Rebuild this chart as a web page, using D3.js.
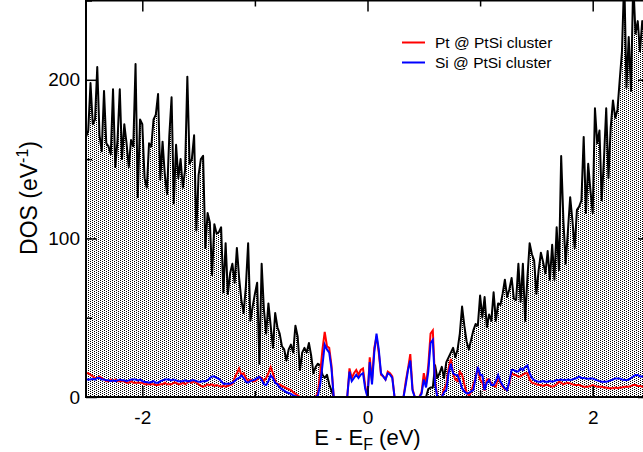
<!DOCTYPE html>
<html><head><meta charset="utf-8">
<script src="https://cdn.jsdelivr.net/npm/d3@7"></script>
<style>body{margin:0;background:#fff}svg{display:block}text{font-family:"Liberation Sans",Arial,sans-serif;fill:#000}</style>
</head><body><svg id="c" width="643" height="452"></svg>
<script>
// Energy grid: start and step (eV)
const eStart = -2.5, eStep = 0.02;
// Total DOS (black, filled)
const totalDOS = [
164,168,198,172,175,208,165,155,193,160,
158,153,194,145,162,194,150,172,160,145,
162,158,210,126,175,172,138,132,160,158,
175,178,191,137,161,140,128,165,189,122,
159,138,150,132,143,202,147,150,165,105,
140,150,152,94,116,110,77,109,103,104,
107,66,97,65,78,84,72,94,75,61,
53,70,97,48,57,65,72,21,84,55,
40,59,45,31,53,44,40,32,30,23,
30,33,28,45,38,17,28,31,28,34,
26,15,19,21,20,14,12,14,8,4,
0,0,0,0,0,0,0,0,0,0,
0,0,0,0,0,0,0,0,0,0,
0,0,0,0,0,0,0,0,0,0,
0,0,0,0,0,0,0,0,0,0,
0,0,5,6,6,20,12,15,19,12,
22,25,28,31,25,30,40,57,45,35,
30,36,42,46,45,64,50,63,44,52,
48,66,48,59,58,65,74,63,68,75,
62,61,84,60,84,48,75,97,90,86,
65,80,91,85,78,92,74,96,74,107,
80,152,111,84,105,126,111,94,118,120,
124,164,116,147,130,116,182,160,168,124,
150,182,138,170,187,176,181,200,218,265,
195,227,193,262,229,237,218,237,230,240,
235];
// Pt @ PtSi cluster (red)
const ptDOS = [
15,15,14,13,12,12,13,12,11,10,
10,11,10,11,10,10,10,10,9,9,
10,9,9,9,9,9,8,8,8,8,
8,7.5,7.5,8,8,9,8,8,8,9,
9,8,8,9,8,9,10,9,10,9,
8,7,6.5,7,8,7.5,8,7,7.5,7,
6.5,7,6.5,7,7.5,8,12,15,18,14,
15,12,10,11,10,10,11,12.8,12,10,
12,15,19,15,10,8,8,7,6.5,5.5,
5,4.4,3,2,1,0,0,0,0,0,
0,0,0,3,15,30,41,32,31,20,
0,0,0,0,0,0,0,18,12,15,
17,14,17,18,7,0,25,10,31,38,
28,14,13,11,16,15,13,0,0,0,
0,0,10,18,27,5,0,0,0,3,
15,8,20,40,42,10,0,0,0,5,
8,18,24,15,11,10,16,14,8,3,
1,3,8,12,19,11,9,4,11,11,
8.6,7,6.5,12.8,9,6.5,5,4.4,9,15,
14,13.8,12.8,13,14,15,15,11,9,8.6,
8,7.5,7.5,7,7.5,7.5,7,6.5,7,8,
9.6,9,8,8.6,9,8.6,8,7.5,7.5,7.5,
7,6.5,6.5,6.5,7,7.5,7,6.5,6.5,6.5,
6,6,5.5,5.5,5.5,6,5.5,6,6,6.5,
6.5,6.5,7,7.5,7.5,7,7,6.5,6.5,6.5,
6.5];
// Si @ PtSi cluster (blue)
const siDOS = [
11,11,11,11.5,11,12,12,11,11,10.5,
10.5,10,10.5,10,10.5,11,10.5,10.5,10,10.5,
11,11,11,10.5,11,10,9.5,9.5,9,9.5,
10,9,9,10,10.5,11,11,11,10.5,11,
10.5,10,10,10,10.5,10,10,10.5,10.5,10,
9.6,9.6,10,10,10.5,12,13,13,12,11.5,
10,8.4,8.4,8.4,8.4,9,10,11.5,12,13.6,
12,9.6,9,10,10.5,11,12,12.6,11,8,
7.5,10,13.6,12,9,8,6,5,4,3,
2.5,2,1,0.5,0,0,0,0,0,0,
0,0,0,1,8,20,33,30,28,18,
0,0,0,0,0,0,0,16,10,12,
14,12,14,15,5,0,22,8,28,40,
30,15,13,11,15,14,12,0,0,0,
0,0,8,17,23,4,0,0,0,2,
11,6,16,34,36,8,0,0,0,3,
4.4,15,21,15,14,13.8,10,5.5,3.5,2.3,
2.5,3.5,4.4,12,19,14,13.8,4.4,9,10.7,
7.5,7.5,10,13.8,10,7.5,5.5,4.4,10,17,
17,16,16,18,17,19,20,15,12,10.7,
10,9.6,9.6,10,9.6,9.6,10,9.6,10,10.7,
10.7,11,10.7,10.7,11,10.7,11,11.5,12,12.8,
12,12,11.7,11.5,11.7,11.7,11,10.5,10,9.6,
9.6,9.6,10,10.5,11,11.7,11.7,11.7,11,10.7,
10.7,11,12,13,13.8,13.8,13,13,13,13,
13];
const xMajorTicks = [-2, 0, 2];
const xMinorTicks = [-1, 1];
const yMajorTicks = [0, 100, 200];
const yMinorTicks = [50, 150, 250];
const legendLabels = ["Pt @ PtSi cluster", "Si @ PtSi cluster"];
const legendColors = ["#ff0000", "#0000ff"];

const energy = totalDOS.map((d, i) => +(eStart + i * eStep).toFixed(2));

const svg = d3.select("#c");
const L = 86, R = 649, T = 0.5, B = 397;
const x = d3.scaleLinear().domain([-2.5, 2.5]).range([L, R]);
const y = d3.scaleLinear().domain([0, 250]).range([B, T]);

const defs = svg.append("defs");
const pat = defs.append("pattern").attr("id", "dots").attr("patternUnits", "userSpaceOnUse")
  .attr("width", 4).attr("height", 2);
pat.append("rect").attr("width", 4).attr("height", 2).attr("fill", "#fff");
pat.append("rect").attr("x", 0).attr("y", 0).attr("width", 1).attr("height", 1).attr("fill", "#000");
pat.append("rect").attr("x", 2).attr("y", 1).attr("width", 1).attr("height", 1).attr("fill", "#000");
defs.append("clipPath").attr("id", "clip").append("rect")
  .attr("x", L).attr("y", T).attr("width", R - L).attr("height", B - T);

const g = svg.append("g").attr("clip-path", "url(#clip)");
const tot = energy.map((e, i) => [e, totalDOS[i]]);
g.append("path").datum(tot).attr("fill", "url(#dots)")
  .attr("d", d3.area().x(d => x(d[0])).y0(y(0)).y1(d => y(d[1])));
g.append("path").datum(tot).attr("fill", "none").attr("stroke", "#000").attr("stroke-width", 2)
  .attr("stroke-linejoin", "round")
  .attr("d", d3.line().x(d => x(d[0])).y(d => y(d[1])));
const line = d3.line().x(d => x(d[0])).y(d => y(d[1]));
g.append("path").datum(energy.map((e, i) => [e, ptDOS[i]])).attr("fill", "none")
  .attr("stroke", legendColors[0]).attr("stroke-width", 2).attr("d", line);
g.append("path").datum(energy.map((e, i) => [e, siDOS[i]])).attr("fill", "none")
  .attr("stroke", legendColors[1]).attr("stroke-width", 2).attr("d", line);

// frame
svg.append("rect").attr("x", L).attr("y", T).attr("width", R - L).attr("height", B - T)
  .attr("fill", "none").attr("stroke", "#000").attr("stroke-width", 2);

// axes with inward ticks
const fs = "19px";
const axB = svg.append("g").attr("transform", `translate(0,${B})`)
  .call(d3.axisBottom(x).tickValues(xMajorTicks).tickSize(-11).tickPadding(14).tickFormat(d3.format("d")));
svg.append("g").attr("transform", `translate(0,${B})`)
  .call(d3.axisBottom(x).tickValues(xMinorTicks).tickSize(-6).tickFormat(""));
svg.append("g").attr("transform", `translate(0,${T})`)
  .call(d3.axisTop(x).tickValues(xMajorTicks).tickSize(-11).tickFormat(""));
svg.append("g").attr("transform", `translate(0,${T})`)
  .call(d3.axisTop(x).tickValues(xMinorTicks).tickSize(-6).tickFormat(""));
svg.append("g").attr("transform", `translate(${L},0)`)
  .call(d3.axisLeft(y).tickValues(yMajorTicks).tickSize(-11).tickPadding(6).tickFormat(d3.format("d")));
svg.append("g").attr("transform", `translate(${L},0)`)
  .call(d3.axisLeft(y).tickValues(yMinorTicks).tickSize(-6).tickFormat(""));
svg.append("g").attr("transform", `translate(${R},0)`)
  .call(d3.axisRight(y).tickValues(yMajorTicks).tickSize(-11).tickFormat(""));
svg.append("g").attr("transform", `translate(${R},0)`)
  .call(d3.axisRight(y).tickValues(yMinorTicks).tickSize(-6).tickFormat(""));
svg.selectAll(".domain").remove();
svg.selectAll(".tick line").attr("stroke", "#000").attr("stroke-width", 1.5);
svg.selectAll(".tick text").style("font-size", fs).style("font-family", "Liberation Sans, Arial, sans-serif").attr("fill", "#000");
axB.selectAll(".tick text").text(d => d < 0 ? "-" + Math.abs(d) : d);

// axis titles
const xt = svg.append("text").attr("x", (L + R) / 2).attr("y", 445).attr("text-anchor", "middle")
  .style("font-size", "22px");
xt.append("tspan").text("E - E");
xt.append("tspan").attr("dy", 5).style("font-size", "16px").text("F");
xt.append("tspan").attr("dy", -5).text(" (eV)");

const yt = svg.append("text").attr("transform", `translate(37,198) rotate(-90)`)
  .attr("text-anchor", "middle").style("font-size", "23px");
yt.append("tspan").text("DOS (eV");
yt.append("tspan").attr("dy", -9).style("font-size", "16px").text("-1");
yt.append("tspan").attr("dy", 9).text(")");

// legend
const lg = svg.append("g");
legendLabels.forEach((lab, i) => {
  const yy = 42.5 + i * 20;
  lg.append("line").attr("x1", 402).attr("x2", 425).attr("y1", yy).attr("y2", yy)
    .attr("stroke", legendColors[i]).attr("stroke-width", 2);
  lg.append("text").attr("x", 435).attr("y", yy + 5.5).style("font-size", "15.5px").text(lab);
});
</script></body></html>
